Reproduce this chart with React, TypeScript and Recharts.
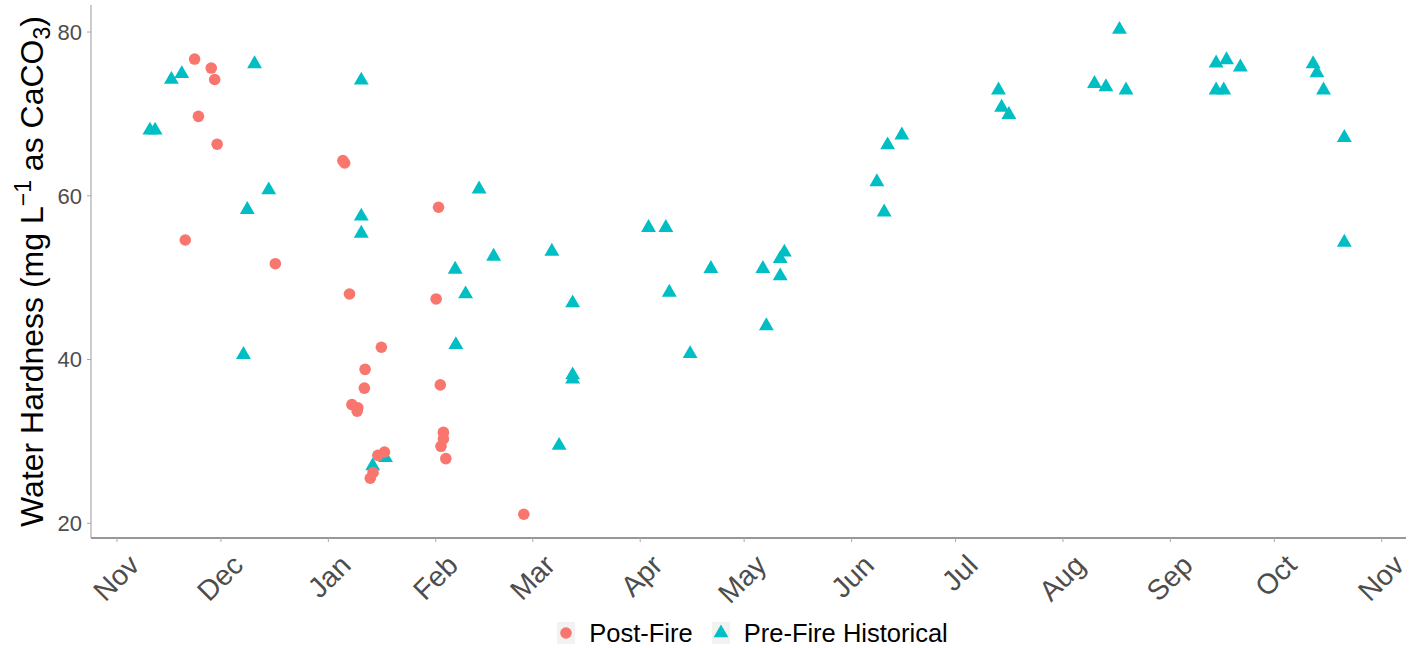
import React from 'react';
import { ScatterChart, Scatter, XAxis, YAxis, Legend } from 'recharts';

// x positions are days counted from 1 Nov
const monthTicks = [0, 30, 61, 92, 120, 151, 181, 212, 242, 273, 304, 334, 365];
const monthLabels = ['Nov', 'Dec', 'Jan', 'Feb', 'Mar', 'Apr', 'May', 'Jun', 'Jul', 'Aug', 'Sep', 'Oct', 'Nov'];
const hardnessTicks = [20, 40, 60, 80];

const postFireDay = [
  19.7, 22.4, 23.5, 27.2, 28.2, 28.9, 45.7, 65.2, 65.7, 67.1, 67.8, 69.5, 69.3, 71.6,
  71.4, 73.9, 73.1, 75.3, 77.2, 76.3, 92.1, 92.8, 93.3, 93.5, 94.2, 94.2, 94.9, 117.4,
];
const postFireHardness = [
  54.6, 76.7, 69.7, 75.6, 74.2, 66.3, 51.7, 64.3, 64.0, 48.0, 34.5, 34.1, 33.7, 38.8,
  36.5, 26.2, 25.5, 28.3, 28.7, 41.5, 47.4, 58.6, 36.9, 29.4, 30.3, 31.1, 27.9, 21.1,
];

const preFireDay = [
  9.5, 11.0, 15.7, 18.7, 36.5, 37.6, 39.7, 43.8, 70.5, 70.5, 70.5, 73.8, 77.5, 97.6,
  97.8, 100.6, 104.5, 108.7, 125.5, 127.6, 131.5, 131.5, 131.5, 153.4, 158.4, 159.4, 165.4, 171.4,
  186.4, 187.4, 191.4, 192.6, 191.4, 219.3, 221.4, 222.4, 226.5, 254.4, 255.3, 257.4, 282.1, 285.4,
  289.3, 291.2, 317.2, 320.2, 324.2, 317.2, 319.4, 345.2, 346.3, 348.2, 354.2, 354.2,
];
const preFireHardness = [
  68.0, 68.0, 74.2, 74.9, 40.6, 58.3, 76.1, 60.7, 74.1, 57.5, 55.4, 27.0, 28.0, 51.0,
  41.8, 48.0, 60.8, 52.6, 53.2, 29.5, 46.9, 38.1, 37.6, 56.1, 56.1, 48.2, 40.7, 51.1,
  51.1, 44.1, 52.3, 53.1, 50.2, 61.7, 58.0, 66.2, 67.4, 72.9, 70.8, 69.9, 73.7, 73.3,
  80.3, 72.9, 76.2, 76.6, 75.7, 72.9, 72.9, 76.1, 75.0, 72.9, 67.1, 54.3,
];

const postFire = postFireDay.map((d, i) => ({ day: d, hardness: postFireHardness[i] }));
const preFire = preFireDay.map((d, i) => ({ day: d, hardness: preFireHardness[i] }));

const RED = '#F8766D';
const TEAL = '#00BFC4';

const Dot = (p: any) => <circle cx={p.cx} cy={p.cy} r={5.8} fill={RED} />;

const Tri = (p: any) => {
  const a = 4.3;
  const { cx, cy } = p;
  return (
    <path
      d={`M${cx},${cy - 2 * a}L${cx + 1.732 * a},${cy + a}L${cx - 1.732 * a},${cy + a}Z`}
      fill={TEAL}
    />
  );
};

const MonthTick = (props: any) => {
  const { x, y, index } = props;
  return (
    <g transform={`translate(${x + 24},${y + 25})`}>
      <text transform="rotate(-45)" textAnchor="end" fontSize={28.5} fill="#4d4d4d">
        {monthLabels[index]}
      </text>
    </g>
  );
};

const YTitle = (props: any) => {
  const vb = props.viewBox;
  const cy = vb.y + vb.height / 2;
  const cx = 43;
  return (
    <text transform={`rotate(-90,${cx},${cy})`} x={cx} y={cy} textAnchor="middle" fontSize={32} fill="#000">
      Water Hardness (mg L
      <tspan dy={-12} fontSize={23}>−1</tspan>
      <tspan dy={12}> as CaCO</tspan>
      <tspan dy={7} fontSize={23}>3</tspan>
      <tspan dy={-7}>)</tspan>
    </text>
  );
};

const LegendBox = () => (
  <div
    style={{
      height: 30,
      marginLeft: 99,
      width: 1307,
      display: 'flex',
      justifyContent: 'center',
      alignItems: 'center',
      fontSize: 25.5,
      color: '#000',
    }}
  >
    <svg width={18} height={22}>
      <rect width={18} height={22} fill="#f2f2f2" />
      <circle cx={9} cy={11} r={5.8} fill={RED} />
    </svg>
    <span style={{ marginLeft: 14 }}>Post-Fire</span>
    <svg width={18} height={22} style={{ marginLeft: 19 }}>
      <rect width={18} height={22} fill="#f2f2f2" />
      <path d="M9,2.4L16.4,15.3L1.6,15.3Z" fill={TEAL} />
    </svg>
    <span style={{ marginLeft: 14 }}>Pre-Fire Historical</span>
  </div>
);

export default function App() {
  return (
    <div style={{ position: 'absolute', left: 0, top: 0, fontFamily: '"Liberation Sans", Arial, sans-serif' }}>
      <ScatterChart width={1411} height={648} margin={{ top: 5, right: 5, left: 0, bottom: 0 }}>
        <XAxis
          type="number"
          dataKey="day"
          domain={[-7.5, 372]}
          ticks={monthTicks}
          interval={0}
          height={80}
          tickSize={4}
          tickMargin={0}
          tick={<MonthTick />}
          axisLine={{ stroke: '#333', strokeWidth: 1.2 }}
          tickLine={{ stroke: '#aaa' }}
        />
        <YAxis
          type="number"
          dataKey="hardness"
          domain={[18.2, 83.3]}
          ticks={hardnessTicks}
          width={91}
          tickSize={4}
          tickMargin={5}
          tick={{ fontSize: 22, fill: '#4d4d4d' }}
          axisLine={{ stroke: '#999' }}
          tickLine={{ stroke: '#aaa' }}
          label={(p: any) => <YTitle {...p} />}
        />
        <Legend verticalAlign="bottom" height={30} content={() => <LegendBox />} />
        <Scatter name="Pre-Fire Historical" data={preFire} shape={Tri} isAnimationActive={false} />
        <Scatter name="Post-Fire" data={postFire} shape={Dot} isAnimationActive={false} />
      </ScatterChart>
    </div>
  );
}
